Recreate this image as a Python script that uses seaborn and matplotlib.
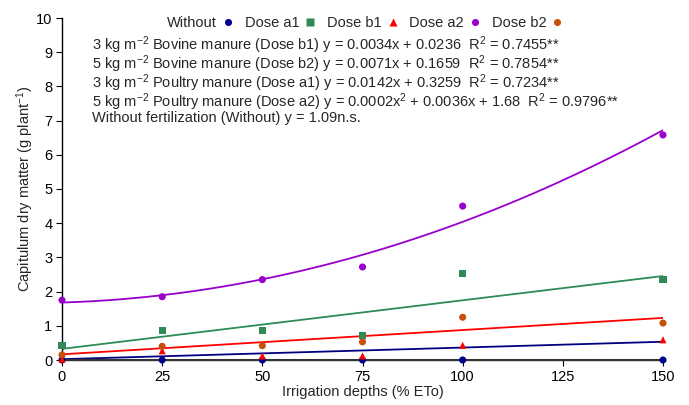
import numpy as np
import pandas as pd
import matplotlib
matplotlib.use("Agg")
import matplotlib.pyplot as plt
import seaborn as sns

# ---- data ----
x_vals = [0, 25, 50, 75, 100, 150]
series_names = ["Without", "Dose a1", "Dose b1", "Dose a2", "Dose b2"]
without = [0.0, 0.0, 0.0, 0.0, 0.0, 0.0]
dose_a1 = [0.42, 0.85, 0.85, 0.72, 2.52, 2.35]
dose_b1 = [0.02, 0.27, 0.12, 0.12, 0.43, 0.59]
dose_a2 = [1.75, 1.85, 2.35, 2.72, 4.50, 6.58]
dose_b2 = [0.15, 0.40, 0.42, 0.53, 1.25, 1.08]

# trend-line coefficients (highest power first), from the equations
fit_names = ["fit_b1", "fit_b2", "fit_a1", "fit_a2", "fit_without"]
fit_b1 = [0.0034, 0.0236]
fit_b2 = [0.0071, 0.1659]
fit_a1 = [0.0142, 0.3259]
fit_a2 = [0.0002, 0.0036, 1.68]
fit_without = [0.0]

eq_lines = [
    r"3 kg m$^{-2}$ Bovine manure (Dose b1) y = 0.0034x + 0.0236  R$^{2}$ = 0.7455**",
    r"5 kg m$^{-2}$ Bovine manure (Dose b2) y = 0.0071x + 0.1659  R$^{2}$ = 0.7854**",
    r"3 kg m$^{-2}$ Poultry manure (Dose a1) y = 0.0142x + 0.3259  R$^{2}$ = 0.7234**",
    r"5 kg m$^{-2}$ Poultry manure (Dose a2) y = 0.0002x$^{2}$ + 0.0036x + 1.68  R$^{2}$ = 0.9796**",
    "Without fertilization (Without) y = 1.09n.s.",
]

# ---- style ----
sns.set_style("white")
plt.rcParams["font.family"] = ["Liberation Sans", "DejaVu Sans"]
plt.rcParams["mathtext.fontset"] = "custom"
plt.rcParams["mathtext.rm"] = "Liberation Sans"
plt.rcParams["mathtext.it"] = "Liberation Sans:italic"
plt.rcParams["mathtext.bf"] = "Liberation Sans:bold"

colors = {"Without": "#00008B", "Dose a1": "#2E8B57", "Dose b1": "#FF0000",
          "Dose a2": "#9900CC", "Dose b2": "#C8500A"}
markers = {"Without": "o", "Dose a1": "s", "Dose b1": "^", "Dose a2": "o", "Dose b2": "o"}

df = pd.DataFrame({
    "x": x_vals * 5,
    "y": without + dose_a1 + dose_b1 + dose_a2 + dose_b2,
    "series": sum([[n] * len(x_vals) for n in series_names], []),
})

xg = np.linspace(0, 150, 151)
fit_colors = {"fit_b1": "#000080", "fit_b2": "#FF0000", "fit_a1": "#2E8B57",
              "fit_a2": "#9900CC", "fit_without": "#333333"}
fits = {"fit_b1": fit_b1, "fit_b2": fit_b2, "fit_a1": fit_a1,
        "fit_a2": fit_a2, "fit_without": fit_without}
fit_df = pd.concat([pd.DataFrame({"x": xg, "y": np.polyval(fits[n], xg), "fit": n})
                    for n in fit_names], ignore_index=True)

fig = plt.figure(figsize=(6.89, 4.05), dpi=100)
ax = fig.add_axes([62 / 689, 45 / 405, (663 - 62) / 689, (360 - 18) / 405])

sns.lineplot(data=fit_df, x="x", y="y", hue="fit", palette=fit_colors,
             legend=False, ax=ax, linewidth=1.3)
ax.lines[-1].set_linewidth(2.2)

sns.scatterplot(data=df, x="x", y="y", hue="series", style="series",
                palette=colors, markers=markers, s=26, edgecolor="none",
                ax=ax, zorder=5, clip_on=False)

handles, labels = ax.get_legend_handles_labels()
ax.legend(handles, labels, loc="center", bbox_to_anchor=(0.505, 1 - 5 / 342),
          ncol=5, frameon=False, markerfirst=False, fontsize=10.5,
          handletextpad=0.3, columnspacing=0.7, handlelength=0.9,
          borderaxespad=0, borderpad=0)

ax.set_xlim(0, 150)
ax.set_ylim(0, 10)
ax.set_xticks([0, 25, 50, 75, 100, 125, 150])
ax.set_yticks(range(0, 11))
ax.set_xlabel("Irrigation depths (% ETo)", fontsize=10.5, labelpad=1)
ax.set_ylabel(r"Capitulum dry matter (g plant$^{-1}$)", fontsize=10.5, labelpad=0)
ax.tick_params(axis="both", labelsize=10.5, direction="out", length=4, width=0.8,
               colors="black", bottom=True, left=True, pad=3)

for s in ["top", "right"]:
    ax.spines[s].set_visible(False)
ax.spines["left"].set_color("black")
ax.spines["left"].set_linewidth(1.0)
ax.spines["bottom"].set_color("#333333")
ax.spines["bottom"].set_linewidth(1.0)

fig.text(92 / 689, 1 - 34 / 405, "\n".join(eq_lines), fontsize=10.5,
         va="top", ha="left", linespacing=0.84)

fig.savefig("out.png", dpi=100)
